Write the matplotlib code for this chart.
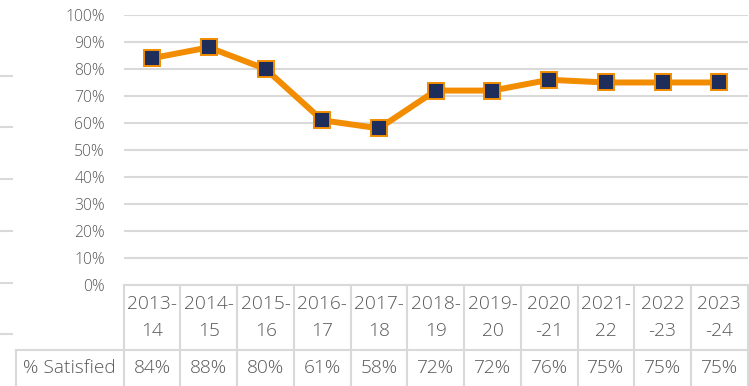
import matplotlib.pyplot as plt
from matplotlib.lines import Line2D
from matplotlib.ticker import PercentFormatter

seasons = ["2013-\n14", "2014-\n15", "2015-\n16", "2016-\n17", "2017-\n18", "2018-\n19",
           "2019-\n20", "2020\n-21", "2021-\n22", "2022\n-23", "2023\n-24"]
satisfied = [84, 88, 80, 61, 58, 72, 72, 76, 75, 75, 75]
row_label = "% Satisfied"

ORANGE = "#F28C00"
NAVY = "#1F2D5B"
GRID = "#d9d9d9"
TEXT = "#595959"

plt.rcParams["font.family"] = ["Open Sans", "DejaVu Sans"]
plt.rcParams["font.weight"] = 300

fig = plt.figure(figsize=(7.49, 3.86), dpi=100)
ax = fig.add_axes([0.1652, 0.2617, 0.8331, 0.6995])

x = list(range(len(satisfied)))
ax.plot(x, [v / 100 for v in satisfied], color=ORANGE, lw=4.3,
        marker="s", markersize=11.3, markerfacecolor=NAVY,
        markeredgecolor=ORANGE, markeredgewidth=1.4, zorder=3)

ax.set_xlim(-0.5, len(satisfied) - 0.5)
ax.set_ylim(0, 1)
ax.set_yticks([i / 10 for i in range(11)])
ax.yaxis.set_major_formatter(PercentFormatter(1.0, decimals=0))
ax.set_xticks([])
ax.tick_params(axis="y", length=0, pad=13.5, labelsize=11.3, labelcolor=TEXT)
ax.yaxis.grid(True, color=GRID, lw=1.5)
ax.set_axisbelow(True)
for s in ax.spines.values():
    s.set_visible(False)

# data table under the plot
trans = ax.get_xaxis_transform()
row_sep = -0.2407
bottom = -0.38
tbl = dict(color=GRID, lw=1.5, clip_on=False)
ax.plot([-0.5, len(satisfied) - 0.5], [0, 0], transform=trans, **tbl)
ax.plot([-2.4, len(satisfied) - 0.5], [row_sep, row_sep], transform=trans, **tbl)
ax.plot([-2.4, -2.4], [row_sep, bottom], transform=trans, **tbl)
for i in range(len(satisfied) + 1):
    ax.plot([i - 0.5, i - 0.5], [0, bottom], transform=trans, **tbl)

cell_font = dict(transform=trans, ha="center", va="center", fontsize=13.8, color=TEXT)
for i, (lab, v) in enumerate(zip(seasons, satisfied)):
    top, bot = lab.split("\n")
    ax.text(i, -0.0704, top, **cell_font)
    ax.text(i, -0.170, bot, **cell_font)
    ax.text(i, -0.307, f"{v}%", **cell_font)
ax.text(-1.45, -0.307, row_label, **cell_font)

# short axis ticks along the left edge
for yp in [75.7, 127.3, 179, 231, 282.7, 334.3]:
    fig.add_artist(Line2D([0, 12 / 749], [1 - yp / 386] * 2, color=GRID, lw=1.5))

fig.savefig("out.png", dpi=100)
